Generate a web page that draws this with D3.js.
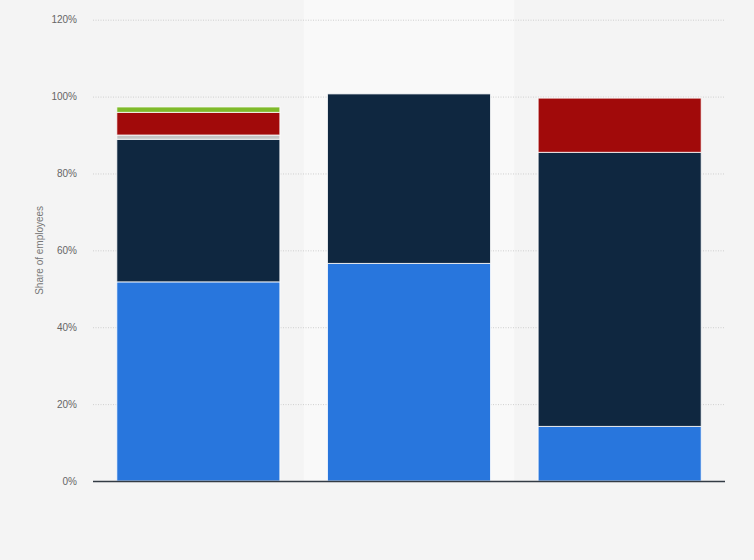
<!DOCTYPE html>
<html><head><meta charset="utf-8">
<script src="https://cdn.jsdelivr.net/npm/d3@7"></script>
<style>
html,body{margin:0;padding:0;background:#f4f4f4;}
svg{display:block;}
text{font-family:"Liberation Sans",Arial,sans-serif;}
</style></head>
<body>
<script>
const categories = ["A", "B", "C"];
const seriesNames = ["Series 1", "Series 2", "Series 3", "Series 4", "Series 5"];
const series1 = [51.8, 56.6, 14.2];
const series2 = [37.1, 44.1, 71.3];
const series3 = [1.1, 0, 0];
const series4 = [5.9, 0, 14.1];
const series5 = [1.4, 0, 0];
const colors = ["#2876dd", "#0f2740", "#c4c4c4", "#a10a0a", "#7fba2a"];
const yTicks = [0, 20, 40, 60, 80, 100, 120];

const W = 754, H = 560;
const margin = {left: 93, right: 29, top: 19.7, bottom: 79};
const svg = d3.select("body").append("svg").attr("width", W).attr("height", H);
svg.append("rect").attr("width", W).attr("height", H).attr("fill", "#f4f4f4");

const x = d3.scaleBand().domain(categories).range([margin.left, W - margin.right]).paddingInner(0.226).paddingOuter(0.113);
const xb = d3.scaleBand().domain(categories).range([margin.left, W - margin.right]);
const y = d3.scaleLinear().domain([0, 120]).range([H - margin.bottom, margin.top]);

// highlight band
svg.append("rect").attr("x", xb("B")).attr("y", 0).attr("width", xb.bandwidth()).attr("height", H - margin.bottom)
  .attr("fill", "#f9f9f9");

// gridlines
const yAxis = d3.axisLeft(y).tickValues(yTicks).tickFormat(d => d + "%").tickSize(-(W - margin.left - margin.right)).tickPadding(16);
const gy = svg.append("g").attr("transform", `translate(${margin.left},0)`).call(yAxis);
gy.select(".domain").remove();
gy.selectAll(".tick line").attr("stroke", "#cfcfcf").attr("stroke-dasharray", "1,1.5").attr("stroke-width", 1);
gy.selectAll(".tick text").attr("fill", "#666").attr("font-size", "10px");
gy.selectAll(".tick").filter(d => d === 0).select("line").remove();

// stacked data
const rows = categories.map((c, i) => ({cat: c, s0: series1[i], s1: series2[i], s2: series3[i], s3: series4[i], s4: series5[i]}));
const stack = d3.stack().keys(["s0", "s1", "s2", "s3", "s4"]);
const stacked = stack(rows);

svg.append("g").selectAll("g").data(stacked).join("g").attr("fill", (d, i) => colors[i])
  .selectAll("rect").data(d => d.filter(p => p[1] - p[0] > 0)).join("rect")
  .attr("x", d => x(d.data.cat))
  .attr("width", x.bandwidth())
  .attr("y", d => y(d[1]))
  .attr("height", d => y(d[0]) - y(d[1]))
  .attr("stroke", "#ffffff")
  .attr("stroke-opacity", 0.8)
  .attr("stroke-width", 1);

// x axis baseline
svg.append("line").attr("x1", margin.left).attr("x2", W - margin.right)
  .attr("y1", y(0) + 0.5).attr("y2", y(0) + 0.5).attr("stroke", "#333b44").attr("stroke-width", 1.3);

// y title
svg.append("text").attr("transform", `translate(43,${(y(0) + y(120)) / 2}) rotate(-90)`)
  .attr("text-anchor", "middle").attr("fill", "#777").attr("font-size", "10px").text("Share of employees");
</script>
</body></html>
